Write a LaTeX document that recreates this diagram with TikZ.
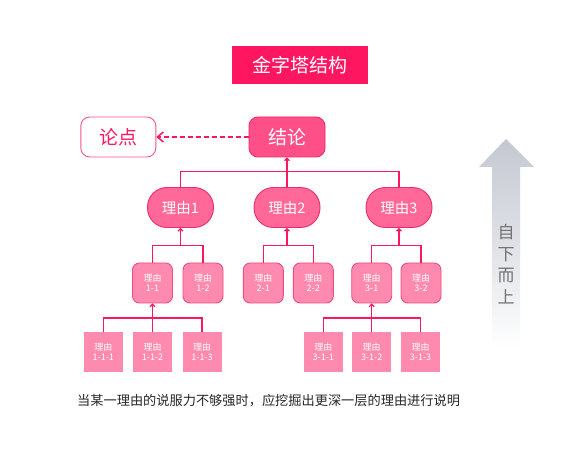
\documentclass[tikz,border=0pt]{standalone}
\usepackage{fontspec}
\setmainfont{Noto Sans CJK SC}
\usepackage{xcolor}
\usepackage{tikz}
\usetikzlibrary{positioning,arrows.meta}
\definecolor{hot}{HTML}{FF1660}
\definecolor{conc}{HTML}{FF4F88}
\definecolor{rsn}{HTML}{FF6898}
\definecolor{subc}{HTML}{FF8AB0}
\definecolor{edge}{HTML}{F02A68}
\definecolor{upgray}{HTML}{C4C8D1}
\tikzset{
  titlebox/.style={rectangle, fill=hot, text=white, minimum width=136pt, minimum height=38pt, inner sep=0pt, font=\fontsize{19}{22}\selectfont},
  pointbox/.style={rectangle, rounded corners=9pt, fill=white, draw=edge!80, line width=0.9pt, text=hot, minimum width=75pt, minimum height=40pt, inner sep=0pt, font=\fontsize{19}{22}\selectfont},
  conclbox/.style={rectangle, rounded corners=9pt, fill=conc, draw=edge, line width=0.9pt, text=white, minimum width=76pt, minimum height=40pt, inner sep=0pt, font=\fontsize{19}{22}\selectfont},
  reason/.style={rectangle, rounded corners=19.5pt, fill=rsn, draw=edge, line width=0.9pt, text=white, minimum width=66pt, minimum height=40pt, inner sep=0pt, font=\fontsize{14.5}{17}\selectfont},
  subbox/.style={rectangle, rounded corners=7pt, fill=subc, draw=edge!85, line width=0.9pt, text=white, minimum width=40pt, minimum height=40pt, inner sep=0pt, align=center, font=\fontsize{9}{10}\selectfont},
  leaf/.style={rectangle, fill=subc, text=white, minimum width=39pt, minimum height=40pt, inner sep=0pt, align=center, font=\fontsize{9}{10}\selectfont},
  link/.style={draw=hot, line width=1.1pt},
  uplink/.style={link, -{Straight Barb[length=2.5pt,width=5pt]}},
  dasharr/.style={draw=hot, line width=1.5pt, dash pattern=on 5pt off 3pt, -{Straight Barb[length=6pt,width=10pt]}}
}
\begin{document}
\begin{tikzpicture}[x=1pt, y=-1pt]
  \useasboundingbox (0,0) rectangle (576,457);
  % title
  \node[titlebox] (ttl) at (300,65) {金字塔结构};
  % top level
  \node[pointbox] (point) at (118.3,137) {论点};
  \node[conclbox] (concl) at (287,137) {结论};
  \draw[dasharr] (concl.west) -- (point.east);
  % reasons
  \node[reason] (why1) at (180.5,207.5) {理由1};
  \node[reason] (why2) at (287,207.5) {理由2};
  \node[reason] (why3) at (399,207.5) {理由3};
  \coordinate (j0) at (287,171.5);
  \draw[link] (why1.north) |- (j0) -| (why3.north);
  \draw[uplink] (why2.north) -- (concl.south);
  % sub reasons
  \node[subbox] (s11) at (152.5,283) {理由\\1-1};
  \node[subbox] (s12) at (203,283) {理由\\1-2};
  \node[subbox] (s21) at (263.3,283) {理由\\2-1};
  \node[subbox] (s22) at (313.3,283) {理由\\2-2};
  \node[subbox] (s31) at (371.7,283) {理由\\3-1};
  \node[subbox] (s32) at (421,283) {理由\\3-2};
  \coordinate (j1) at (180.5,245.5);
  \coordinate (j2) at (287,245.5);
  \coordinate (j3) at (399,245.5);
  \draw[link] (s11.north) |- (j1) -| (s12.north);
  \draw[link] (s21.north) |- (j2) -| (s22.north);
  \draw[link] (s31.north) |- (j3) -| (s32.north);
  \draw[uplink] (j1) -- (why1.south);
  \draw[uplink] (j2) -- (why2.south);
  \draw[uplink] (j3) -- (why3.south);
  % deeper reasons
  \node[leaf] (t111) at (103.3,352) {理由\\1-1-1};
  \node[leaf] (t112) at (152.5,352) {理由\\1-1-2};
  \node[leaf] (t113) at (202,352) {理由\\1-1-3};
  \node[leaf] (t311) at (323.3,352) {理由\\3-1-1};
  \node[leaf] (t312) at (371.7,352) {理由\\3-1-2};
  \node[leaf] (t313) at (420.5,352) {理由\\3-1-3};
  \draw[link] (t111.north) |- (t112.north |- 0,318) -| (t113.north);
  \draw[link] (t311.north) |- (t312.north |- 0,318) -| (t313.north);
  \draw[uplink] (t112.north) -- (s11.south);
  \draw[uplink] (t312.north) -- (s31.south);
  % bottom-up arrow
  \shade[top color=upgray, bottom color=white, middle color=upgray!55]
    (506,139) -- (534,167) -- (520,167) -- (520,347) -- (492,347) -- (492,167) -- (479,167) -- cycle;
  \node[text=black!55, align=center, font=\fontsize{17}{21.5}\selectfont] (dir) at (506,264) {自\\下\\而\\上};
  % note
  \node[anchor=west, inner sep=0pt, text=black!85, font=\fontsize{13.2}{15}\selectfont] (note) at (77,401) {当某一理由的说服力不够强时，应挖掘出更深一层的理由进行说明};
\end{tikzpicture}
\end{document}
